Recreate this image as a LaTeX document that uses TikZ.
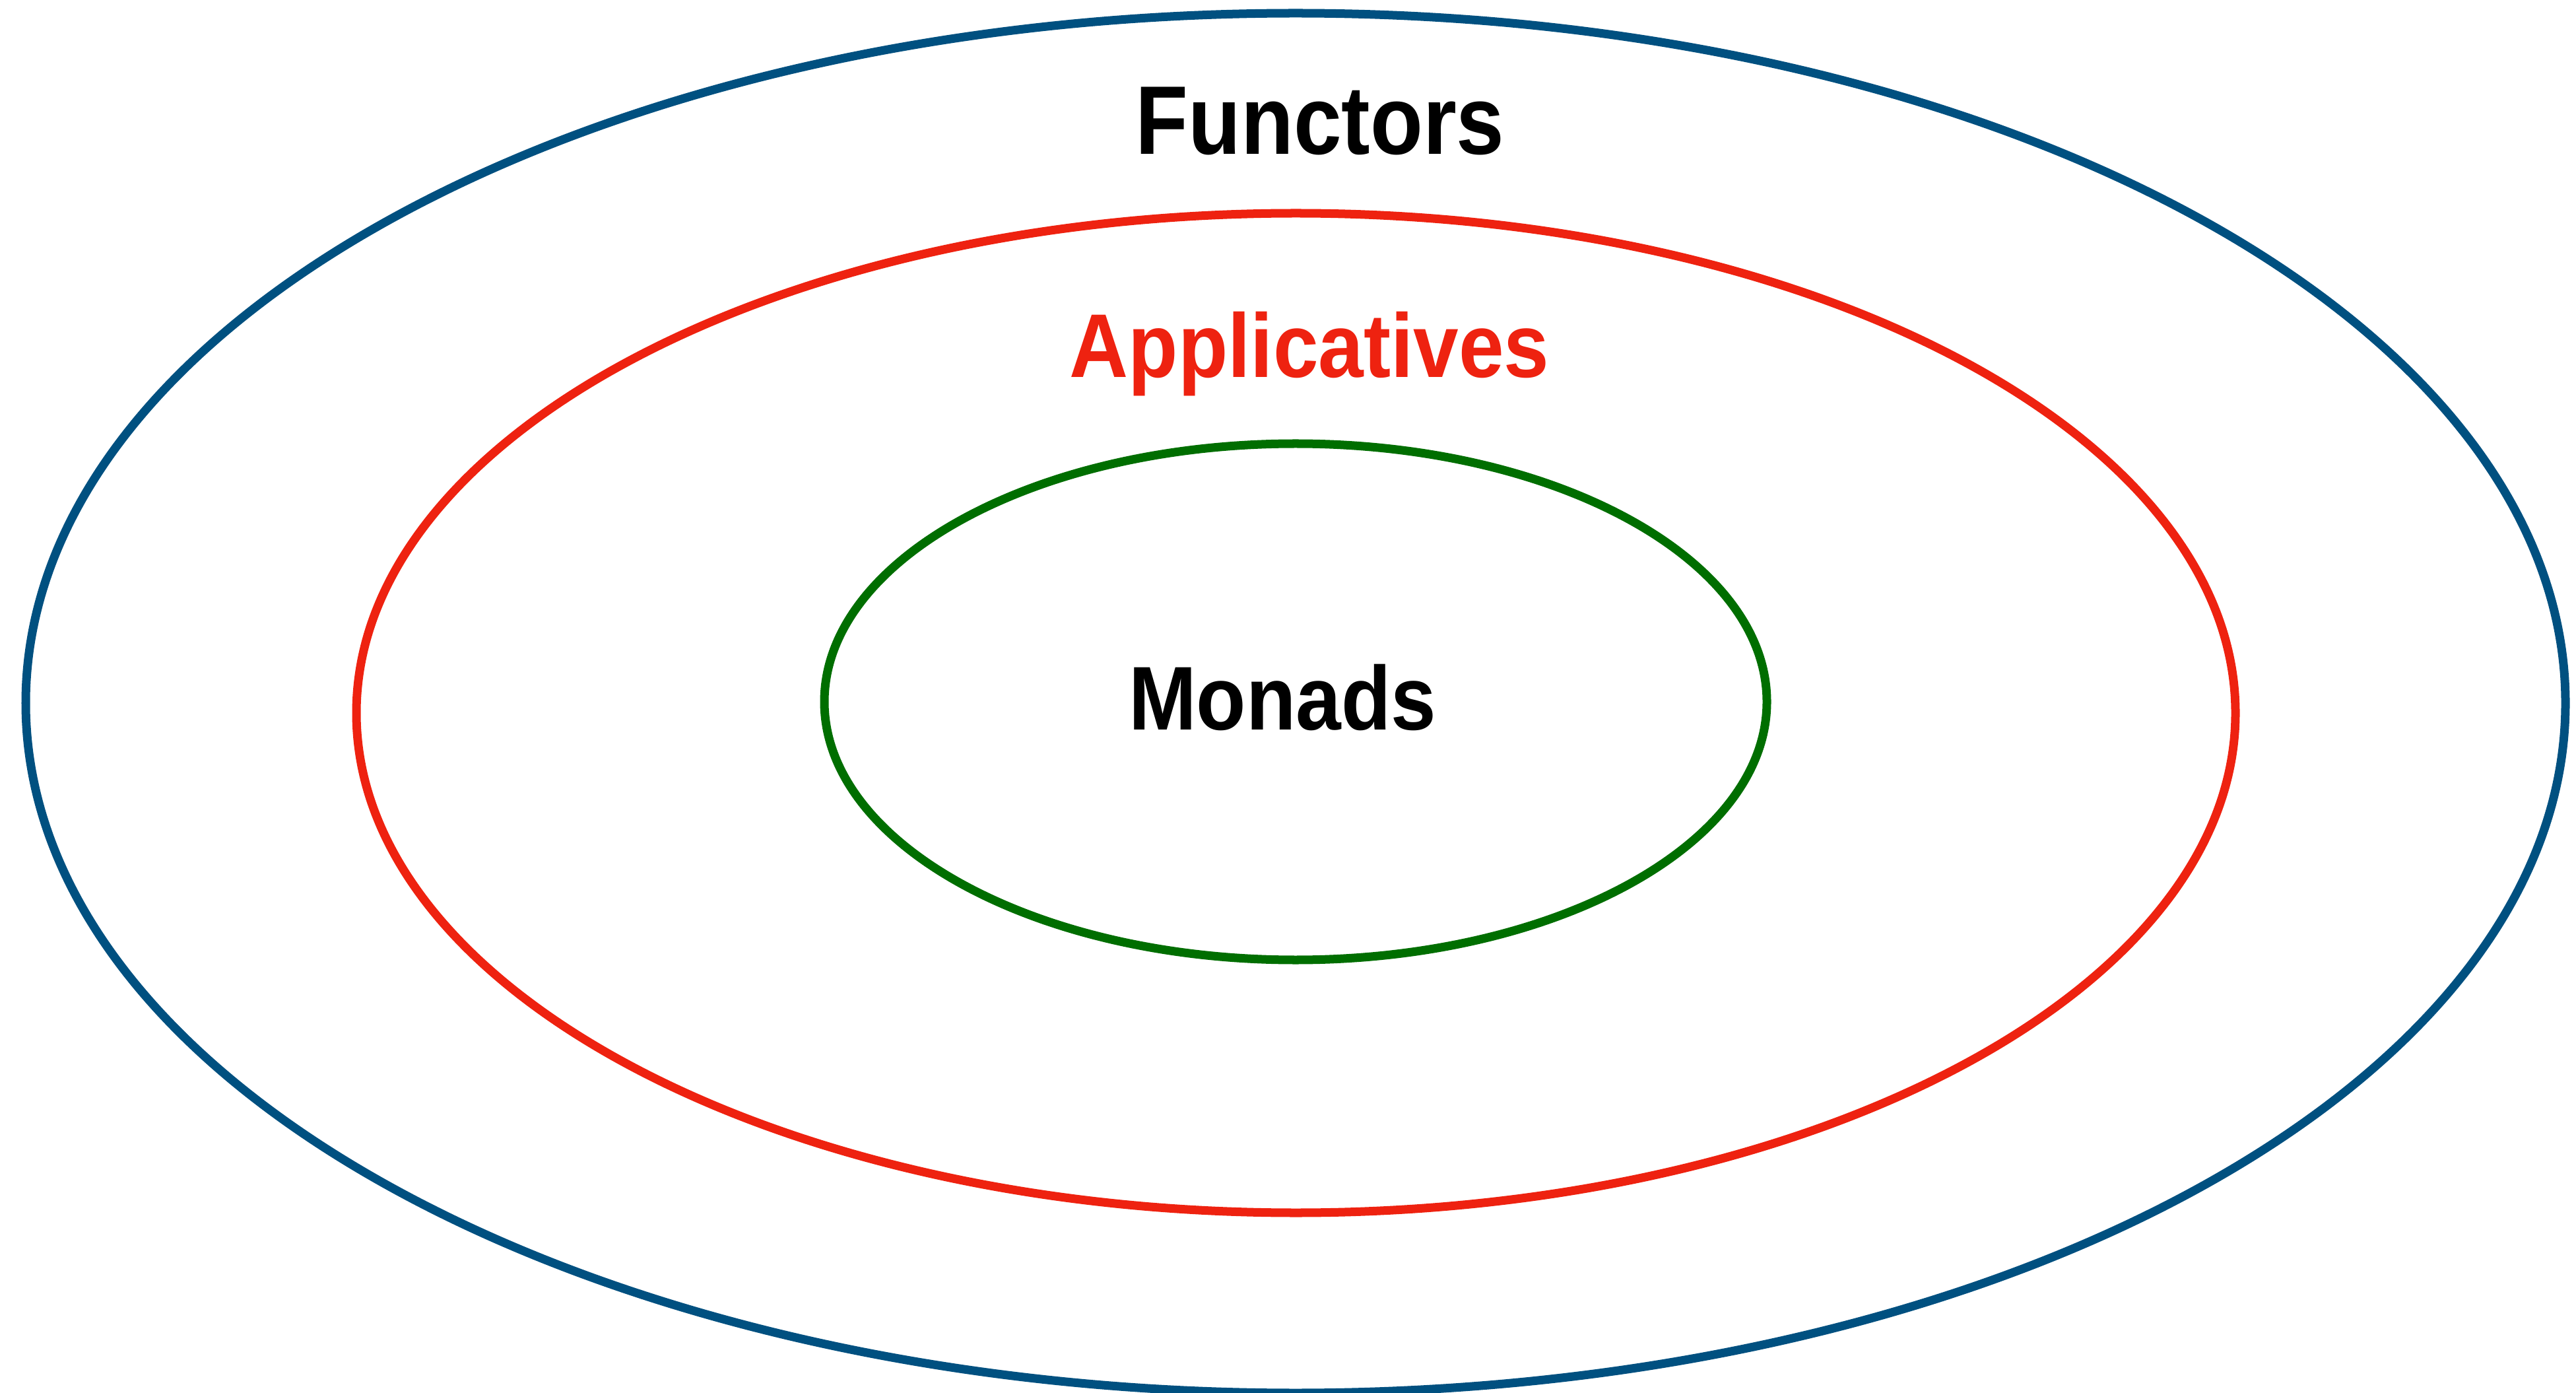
\documentclass[tikz,border=0pt]{standalone}
\usepackage{fontspec}
\usepackage{xcolor}
\usepackage{tikz}
\usetikzlibrary{positioning}
\newfontfamily\setfont{Liberation Sans}
\definecolor{functorblue}{RGB}{0,80,128}
\definecolor{applred}{RGB}{238,34,16}
\definecolor{monadgreen}{RGB}{0,110,0}

\begin{document}
\begin{tikzpicture}[ring/.style={line width=3.7pt},
  setname/.style={inner sep=0pt,anchor=base,font=\setfont\bfseries\fontsize{39}{40}\selectfont}]
\useasboundingbox (0,0) rectangle (39.03,21.09);
\draw[ring,functorblue] (19.63,10.44) ellipse [x radius=19.24, y radius=10.45];
\draw[ring,applred] (19.635,10.29) ellipse [x radius=14.235, y radius=7.57];
\draw[ring,monadgreen] (19.63,10.46) ellipse [x radius=7.14, y radius=3.91];

\node[setname,font=\setfont\bfseries\fontsize{42}{44}\selectfont] (functors) at (20.00,18.75) {\scalebox{0.885}[1]{Functors}};
\node[setname,text=applred] (applicatives) at (19.84,15.37) {\scalebox{0.90}[1]{Applicatives}};
\node[setname] (monads) at (19.43,10.04) {\scalebox{0.90}[1]{Monads}};
\end{tikzpicture}
\end{document}
